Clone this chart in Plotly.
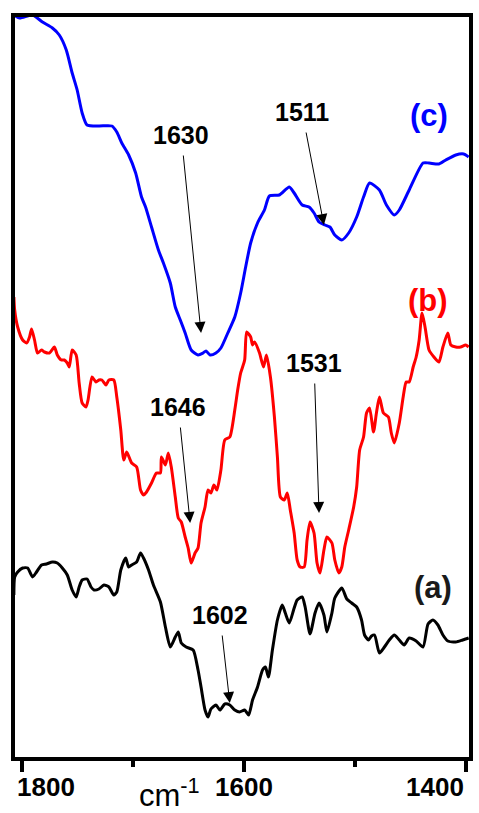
import plotly.graph_objects as go

# ---- data (wavenumber cm-1, intensity a.u.) ----
wn_c = [1807, 1801.8, 1790.2, 1781.3, 1772.3, 1766.1, 1759.8, 1754.5, 1750, 1745.5, 1741.1, 1730.4,
        1718.7, 1714.3, 1709.8, 1703.6, 1697.3, 1692, 1688.4, 1683, 1676.8, 1672.3, 1666.1, 1661.6,
        1657.1, 1652.7, 1647.3, 1641.1, 1636.6, 1633.9, 1630.3, 1625, 1620.5, 1614.3, 1608, 1602.7,
        1598.2, 1593.7, 1587.5, 1581.3, 1576.8, 1567.9, 1558.9, 1554.5, 1547.3, 1541.1, 1536.6,
        1532.1, 1526.8, 1522.3, 1517.9, 1511.6, 1505.4, 1498.2, 1492, 1486.6, 1477.7, 1471.4, 1464.3,
        1459.8, 1450.9, 1438.4, 1433, 1424.1, 1417.9, 1408.9, 1401.8, 1397.3]
int_c = [742, 739, 742, 735, 729, 722, 707, 684, 667, 644, 632, 631,
         631, 625, 614, 602, 584, 560, 550, 530, 507, 494, 474, 450,
         437, 424, 407, 402, 404, 406, 402, 404, 409, 424, 440, 464,
         490, 514, 534, 547, 561, 562, 570, 564, 552, 550, 544,
         535, 532, 530, 522, 517, 524, 540, 560, 574, 567, 552, 542,
         547, 567, 594, 594, 593, 597, 602, 603, 600]

wn_b = [1807, 1806.3, 1803.6, 1799.1, 1795.5, 1792.9, 1791.1, 1788.4, 1785.7, 1782.1, 1779.5, 1775,
        1770.5, 1767.9, 1764.3, 1761.6, 1758.9, 1757.1, 1754.5, 1750.9, 1748.2, 1745.5, 1742, 1740.2,
        1736.6, 1733, 1730.4, 1727.7, 1724.1, 1721.4, 1717, 1714.3, 1710.7, 1708, 1705.4, 1700.9,
        1696.4, 1692.9, 1690.2, 1687.5, 1683, 1678.6, 1675, 1674.1, 1670.5, 1667.9, 1665.2, 1661.6,
        1658.9, 1656.2, 1652.7, 1650, 1647.3, 1643.8, 1641.1, 1638.4, 1634.8, 1632.1, 1629.5, 1626.8,
        1624.1, 1620.5, 1617, 1612.5, 1608, 1605.4, 1602.7, 1599.1, 1597.3, 1593.7, 1592, 1590.2,
        1585.7, 1582.1, 1579.5, 1575.9, 1572.3, 1569.6, 1566.9, 1563.4, 1560.7, 1558, 1554.5, 1551.8,
        1549.1, 1545.5, 1542.9, 1540.2, 1536.6, 1533.9, 1531.2, 1527.7, 1525, 1520.5, 1517.9, 1514.3,
        1511.6, 1508.9, 1505.4, 1500.9, 1498.2, 1495.5, 1492, 1489.3, 1486.6, 1483, 1480.4, 1477.7,
        1474.1, 1469.6, 1467, 1464.3, 1459.8, 1456.3, 1453.6, 1450.9, 1447.3, 1444.6, 1441.9, 1439.3,
        1436.6, 1433, 1428.6, 1424.1, 1420.5, 1416.1, 1413.4, 1408.9, 1404.5, 1400, 1397.3]
int_b = [460, 447, 430, 417, 414, 420, 428, 417, 404, 407, 405, 404,
         410, 402, 397, 397, 394, 390, 407, 402, 374, 354, 350, 357,
         380, 375, 377, 377, 372, 377, 377, 360, 327, 297, 305, 294,
         290, 267, 262, 265, 274, 284, 284, 300, 292, 304, 290, 260,
         239, 235, 220, 209, 194, 204, 209, 234, 250, 267, 264, 272,
         267, 287, 317, 320, 347, 367, 384, 397, 425, 420, 412, 415,
         404, 390, 402, 380, 340, 300, 260, 257, 264, 247, 224, 197,
         190, 190, 217, 235, 224, 194, 184, 207, 220, 214, 197, 184,
         190, 210, 227, 250, 270, 307, 320, 344, 349, 325, 344, 360,
         344, 340, 324, 314, 334, 360, 375, 375, 390, 400, 417, 444,
         430, 407, 400, 395, 410, 424, 412, 410, 410, 412, 410]

wn_a = [1807, 1806.3, 1803.6, 1799.1, 1794.6, 1790.2, 1786.6, 1782.1, 1777.7, 1772.3, 1767.9, 1763.4,
        1758.9, 1754.5, 1750.9, 1748.2, 1745.5, 1741.1, 1737.5, 1734.8, 1730.4, 1725.9, 1721.4, 1717,
        1714.3, 1710.7, 1706.3, 1703.6, 1700.9, 1696.4, 1692.9, 1690.2, 1685.7, 1681.3, 1675, 1670.5,
        1666.1, 1661.6, 1658.9, 1656.2, 1651.8, 1645.5, 1641.1, 1638.4, 1634.8, 1632.1, 1629.5, 1625,
        1621.4, 1617, 1612.5, 1608, 1603.6, 1599.1, 1595.5, 1592, 1587.5, 1583, 1580.4, 1577.7,
        1574.1, 1569.6, 1565.2, 1562.5, 1558.9, 1554.5, 1551.8, 1547.3, 1544.6, 1540.2, 1535.7, 1532.1,
        1527.7, 1525, 1520.5, 1517.9, 1511.6, 1507.1, 1502.7, 1498.2, 1493.8, 1491.1, 1487.5, 1484.8,
        1482.1, 1477.7, 1473.2, 1468.8, 1464.3, 1459.8, 1455.4, 1450.9, 1444.6, 1438.4, 1433.9, 1429.5,
        1425, 1420.5, 1416.1, 1408.9, 1402.7, 1397.3]
int_a = [162, 180, 185, 189, 189, 180, 185, 192, 193, 195, 194, 189,
         182, 167, 160, 170, 177, 178, 170, 167, 168, 172, 170, 162,
         165, 187, 199, 190, 192, 195, 204, 199, 187, 172, 155, 130,
         110, 120, 125, 114, 110, 107, 87, 70, 47, 40, 48, 52,
         47, 53, 52, 47, 45, 47, 42, 57, 70, 87, 90, 80,
         107, 137, 152, 144, 134, 149, 157, 160, 150, 123, 144, 154,
         142, 125, 144, 159, 169, 158, 154, 150, 137, 122, 117, 121,
         122, 104, 110, 117, 122, 117, 112, 119, 116, 110, 133, 137,
         132, 122, 116, 115, 117, 119]

# peak annotations: label, arrow tip (x, y), label position (x, y)
peak_labels = ["1630", "1511", "1646", "1531", "1602"]
tip_x = [1638.4, 1527.7, 1648.2, 1532.1, 1612.5]
tip_y = [424, 532, 234, 244, 54]
lab_x = [1656.2, 1547.3, 1658.9, 1536.6, 1621.4]
lab_y = [622, 645, 350, 394, 142]

curve_names = ["(c)", "(b)", "(a)"]
curve_colors = ["#0000ff", "#ff0000", "#1a1a1a"]
name_x = [1433, 1433.9, 1429.5]
name_y = [642, 457, 170]

tick_vals = [1800, 1600, 1400]
tick_text = ["1800", "1600", "1400"]
tick_anchor = ["left", "center", "right"]
tick_shift = [-7, 0, 0]

FONT = "Liberation Sans, Arial, sans-serif"

fig = go.Figure()
for wn, inten, col in [(wn_a, int_a, "#000000"), (wn_b, int_b, "#ff0000"), (wn_c, int_c, "#0000ff")]:
    fig.add_trace(go.Scatter(x=wn, y=inten, mode="lines",
                             line=dict(color=col, width=3, shape="spline", smoothing=0.6),
                             showlegend=False, hoverinfo="skip"))

ann = []
for i in range(len(peak_labels)):
    ann.append(dict(x=tip_x[i], y=tip_y[i], ax=lab_x[i], ay=lab_y[i], xref="x", yref="y",
                    axref="x", ayref="y", text="<b>%s</b>" % peak_labels[i], showarrow=True,
                    arrowhead=2, arrowsize=2.2, arrowwidth=1, arrowcolor="black",
                    borderpad=6, font=dict(family=FONT, size=25, color="black")))
for i in range(len(curve_names)):
    ann.append(dict(x=name_x[i], y=name_y[i], xref="x", yref="y", text="<b>%s</b>" % curve_names[i],
                    showarrow=False, font=dict(family=FONT, size=31, color=curve_colors[i])))
for i in range(len(tick_vals)):
    ann.append(dict(x=tick_vals[i], y=-0.041, xref="x", yref="paper", text="<b>%s</b>" % tick_text[i],
                    xanchor=tick_anchor[i], yanchor="middle", xshift=tick_shift[i], showarrow=False,
                    font=dict(family=FONT, size=26, color="black")))
ann.append(dict(x=0.268, y=-0.048, xref="paper", yref="paper", text="cm<sup>-1</sup>",
                xanchor="left", yanchor="middle", showarrow=False,
                font=dict(family=FONT, size=31, color="black")))

fig.update_layout(
    width=479, height=813,
    margin=dict(l=15, r=6, t=17, b=56),
    paper_bgcolor="white", plot_bgcolor="white",
    annotations=ann,
    xaxis=dict(range=[1806, 1397], showgrid=False, zeroline=False, showline=True, mirror=True,
               linecolor="black", linewidth=4, ticks="outside", ticklen=11, tickwidth=4,
               tickcolor="black", tickvals=tick_vals, showticklabels=False,
               minor=dict(tickvals=[1700, 1500], ticks="outside", ticklen=6, tickwidth=4,
                          tickcolor="black")),
    yaxis=dict(range=[0, 740], showgrid=False, zeroline=False, showline=True, mirror=True,
               linecolor="black", linewidth=4, ticks="", showticklabels=False),
)

fig.write_html("out.html", config={"displayModeBar": False},
               post_script="document.body.style.margin='0';document.body.style.overflow='hidden';")
